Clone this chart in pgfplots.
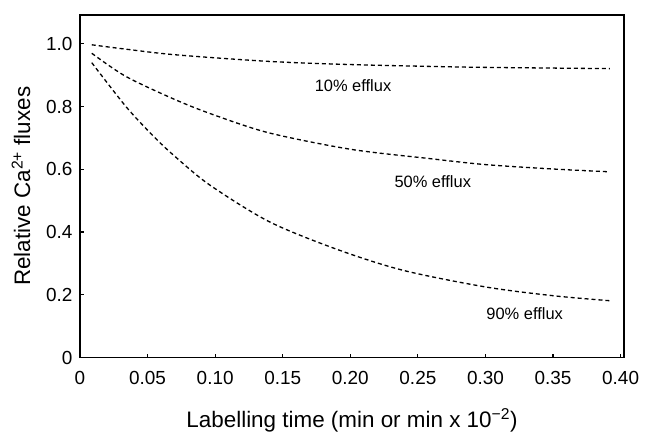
\documentclass[border=0pt]{standalone}
\usepackage{fontspec}
\setmainfont{Liberation Sans}
\usepackage{pgfplots}
\pgfplotsset{compat=1.18}

\begin{document}
\begin{tikzpicture}
\begin{axis}[
  scale only axis, width=544bp, height=342.5bp,
  xmin=0, xmax=0.4025, ymin=0, ymax=1.092,
  axis line style={line width=1.6bp},
  every tick/.style={line width=1.2bp, black},
  major tick length=4bp,
  tick align=inside, xtick pos=bottom, ytick pos=left,
  xtick={0,0.05,0.10,0.15,0.20,0.25,0.30,0.35,0.40},
  xticklabels={0,0.05,0.10,0.15,0.20,0.25,0.30,0.35,0.40},
  ytick={0,0.2,0.4,0.6,0.8,1.0},
  yticklabels={0,0.2,0.4,0.6,0.8,1.0},
  /pgf/number format/assume math mode=true,
  ticklabel style={font=\fontsize{19}{21}\selectfont},
  xticklabel style={yshift=-10bp},
  yticklabel style={xshift=-4bp},
  xlabel={Labelling time (min or min x 10\textsuperscript{−2})},
  ylabel={Relative Ca\textsuperscript{2+} fluxes},
  every axis x label/.style={at={(rel axis cs:0.5,0)}, anchor=base, yshift=-69.5bp, font=\fontsize{22.5}{24}\selectfont},
  every axis y label/.style={at={(rel axis cs:-0.1085,0.5)}, rotate=90, anchor=center, font=\fontsize{22.5}{24}\selectfont},
  clip=false,
]
\coordinate (o) at (rel axis cs:0,0);
\addplot[black, line width=1.3bp, dash pattern=on 4bp off 3bp, smooth] coordinates {
 (0.0087,0.997) (0.034,0.983) (0.071,0.965) (0.14,0.944) (0.20,0.934)
 (0.26,0.928) (0.30,0.925) (0.392,0.921)};
\addplot[black, line width=1.3bp, dash pattern=on 4bp off 3bp, smooth] coordinates {
 (0.0087,0.970) (0.034,0.896) (0.071,0.821) (0.10,0.772) (0.14,0.716)
 (0.20,0.664) (0.259,0.634) (0.30,0.615) (0.35,0.601) (0.392,0.592)};
\addplot[black, line width=1.3bp, dash pattern=on 4bp off 3bp, smooth] coordinates {
 (0.0087,0.940) (0.034,0.800) (0.054,0.707) (0.070,0.642)
 (0.096,0.550) (0.14,0.433) (0.19,0.345) (0.239,0.278) (0.30,0.225)
 (0.35,0.197) (0.392,0.181)};
\node[font=\fontsize{16.5}{18}\selectfont] at (axis cs:0.202,0.867) {10\% efflux};
\node[font=\fontsize{16.5}{18}\selectfont] at (axis cs:0.261,0.560) {50\% efflux};
\node[font=\fontsize{16.5}{18}\selectfont] at (axis cs:0.329,0.141) {90\% efflux};
\end{axis}
\pgfresetboundingbox
\path (o) ++(-80bp,-74.5bp) rectangle ++(648bp,432bp);
\end{tikzpicture}
\end{document}
